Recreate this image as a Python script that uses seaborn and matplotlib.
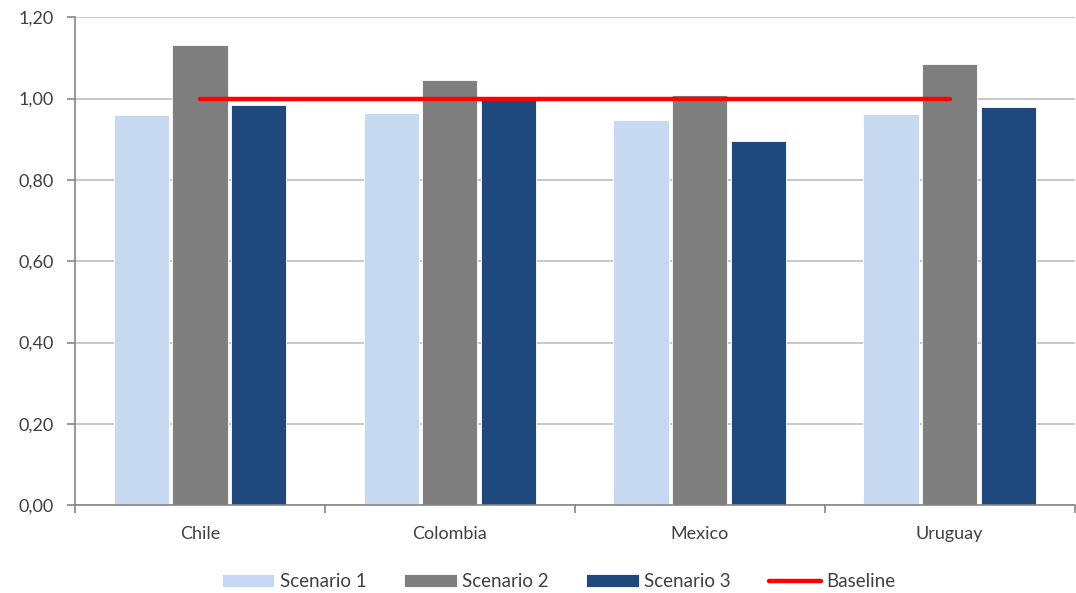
import numpy as np
import pandas as pd
import matplotlib
matplotlib.use("Agg")
import matplotlib.pyplot as plt
import seaborn as sns
from matplotlib.ticker import FuncFormatter, FixedLocator

# data
countries = ["Chile", "Colombia", "Mexico", "Uruguay"]
scenario_1 = [0.959, 0.964, 0.947, 0.961]
scenario_2 = [1.131, 1.045, 1.008, 1.084]
scenario_3 = [0.983, 0.996, 0.895, 0.979]
baseline = [1.0, 1.0, 1.0, 1.0]
scenario_names = ["Scenario 1", "Scenario 2", "Scenario 3"]

df = pd.DataFrame({
    "Country": countries * 3,
    "Value": scenario_1 + scenario_2 + scenario_3,
    "Scenario": np.repeat(scenario_names, len(countries)),
})

sns.set_style("white")
plt.rcParams["font.family"] = ["Lato", "DejaVu Sans"]

fig = plt.figure(figsize=(10.76, 5.93), dpi=100)
ax = fig.add_axes([0.0697, 0.148, 0.929, 0.823])

palette = ["#C6D9F0", "#7F7F7F", "#1F497D"]
sns.barplot(data=df, x="Country", y="Value", hue="Scenario", palette=palette,
            saturation=1, width=0.705, gap=0.06, ax=ax, zorder=2,
            edgecolor="white", linewidth=0.6)

# baseline through the category centres
sns.lineplot(x=np.arange(len(countries)), y=baseline, color="#FF0000", linewidth=3.2,
             ax=ax, label="Baseline", zorder=3)

ax.set_ylim(0, 1.2)
ax.set_xlim(-0.5, len(countries) - 0.5)
ax.set_yticks(np.arange(0, 1.21, 0.2))
ax.yaxis.set_major_formatter(FuncFormatter(lambda v, p: f"{v:.2f}".replace(".", ",")))
ax.grid(axis="y", color="#BFBFBF", linewidth=1.2, zorder=0)
ax.set_axisbelow(True)

# category boundary ticks, labels centred
ax.xaxis.set_major_locator(FixedLocator(np.arange(-0.5, len(countries), 1.0)))
ax.xaxis.set_minor_locator(FixedLocator(np.arange(len(countries))))
ax.set_xticklabels([""] * (len(countries) + 1))
ax.set_xticklabels(countries, minor=True)
ax.tick_params(axis="x", which="major", bottom=True, length=6, width=1.2,
               color="#868686", direction="out")
ax.tick_params(axis="x", which="minor", bottom=True, length=0, pad=15,
               labelsize=13, labelcolor="#404040")
ax.tick_params(axis="y", left=True, length=6, width=1.2, color="#868686", direction="out",
               labelsize=13, labelcolor="#404040", pad=9)
ax.set_xlabel("")
ax.set_ylabel("")

for s in ["top", "right"]:
    ax.spines[s].set_visible(False)
for s in ["left", "bottom"]:
    ax.spines[s].set_color("#868686")
    ax.spines[s].set_linewidth(1.2)

handles, labels = ax.get_legend_handles_labels()
ax.legend(handles, labels, loc="upper center", bbox_to_anchor=(0.484, -0.105), ncol=4,
          frameon=False, fontsize=13.5, handlelength=2.8, handleheight=0.7,
          columnspacing=2.0, handletextpad=0.3, labelcolor="#404040")

fig.savefig("out.png", dpi=100)
